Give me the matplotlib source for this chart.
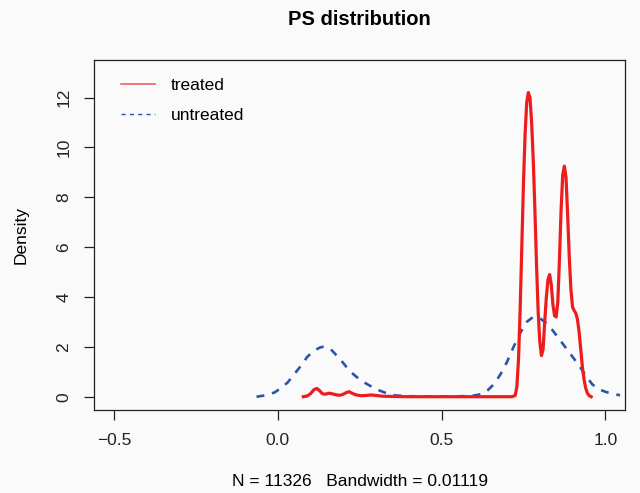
import numpy as np
import matplotlib
matplotlib.use("Agg")
import matplotlib.pyplot as plt
from matplotlib.lines import Line2D

# density estimates
untreated_x = [-0.065, -0.04, -0.01, 0.01, 0.03, 0.05, 0.07, 0.09, 0.11, 0.13,
               0.14, 0.16, 0.18, 0.20, 0.22, 0.24, 0.26, 0.28, 0.30, 0.32,
               0.34, 0.36, 0.40, 0.45, 0.50, 0.55, 0.60, 0.62, 0.64, 0.66,
               0.68, 0.70, 0.72, 0.74, 0.76, 0.78, 0.80, 0.82, 0.84, 0.86,
               0.88, 0.90, 0.92, 0.94, 0.96, 0.98, 1.00, 1.02, 1.045]
untreated_y = [0.0, 0.05, 0.17, 0.35, 0.57, 0.9, 1.23, 1.6, 1.85, 1.98,
               2.0, 1.93, 1.65, 1.35, 1.02, 0.8, 0.6, 0.45, 0.3, 0.2,
               0.1, 0.05, 0.02, 0.01, 0.01, 0.01, 0.05, 0.1, 0.25, 0.5,
               0.9, 1.4, 2.0, 2.55, 3.0, 3.2, 3.15, 2.95, 2.65, 2.3,
               1.95, 1.6, 1.25, 0.85, 0.5, 0.3, 0.2, 0.12, 0.06]

treated_x = [0.078, 0.09, 0.10, 0.11, 0.119, 0.127, 0.136, 0.145, 0.155, 0.165,
             0.18, 0.19, 0.20, 0.21, 0.218, 0.228, 0.24, 0.255, 0.27, 0.285,
             0.30, 0.32, 0.35, 0.40, 0.50, 0.60, 0.70, 0.715, 0.725, 0.730,
             0.735, 0.740, 0.745, 0.750, 0.755, 0.760, 0.765, 0.770, 0.775, 0.780,
             0.785, 0.790, 0.795, 0.800, 0.805, 0.810, 0.815, 0.820, 0.825, 0.830,
             0.835, 0.840, 0.845, 0.850, 0.855, 0.860, 0.865, 0.870, 0.875, 0.880,
             0.885, 0.890, 0.895, 0.900, 0.905, 0.910, 0.915, 0.920, 0.925, 0.930,
             0.935, 0.940, 0.945, 0.950, 0.957]
treated_y = [0.0, 0.03, 0.12, 0.28, 0.33, 0.25, 0.12, 0.1, 0.14, 0.12,
             0.07, 0.06, 0.1, 0.17, 0.2, 0.13, 0.07, 0.04, 0.05, 0.07,
             0.05, 0.02, 0.01, 0.0, 0.0, 0.0, 0.0, 0.0, 0.05, 0.4,
             1.5, 3.5, 6.0, 8.5, 10.5, 11.8, 12.2, 12.0, 11.0, 9.5,
             7.5, 5.3, 3.4, 2.2, 1.65, 1.9, 3.0, 4.0, 4.7, 4.9,
             4.5, 3.7, 3.25, 3.2, 3.8, 5.5, 7.5, 8.9, 9.25, 8.8,
             7.3, 5.6, 4.3, 3.6, 3.45, 3.35, 3.1, 2.6, 1.9, 1.2,
             0.7, 0.35, 0.15, 0.05, 0.0]

x_ticks = [-0.5, 0.0, 0.5, 1.0]
y_ticks = [0, 2, 4, 6, 8, 10, 12]

RED = "#ee1c1c"
BLUE = "#2b55ad"

plt.rcParams["font.family"] = ["Liberation Sans", "DejaVu Sans"]

fig = plt.figure(figsize=(6.4, 4.93), dpi=100, facecolor="#fafafa")
ax = fig.add_axes([0.147, 0.168, 0.83, 0.71])
ax.set_facecolor("#fafafa")

ax.plot(untreated_x, untreated_y, color=BLUE, lw=1.9, dashes=(3, 3))
ax.plot(treated_x, treated_y, color=RED, lw=2.3)

ax.set_xlim(-0.561, 1.061)
ax.set_ylim(-0.54, 13.5)
ax.set_xticks(x_ticks)
ax.set_xticklabels(["\u22120.5", "0.0", "0.5", "1.0"])
ax.set_yticks(y_ticks)
ax.tick_params(axis="both", direction="out", length=7.5, width=0.9,
               labelsize=12.5, pad=9, colors="#222222")
for lab in ax.get_yticklabels():
    lab.set_rotation(90)
    lab.set_va("center")
for s in ax.spines.values():
    s.set_linewidth(0.9)
    s.set_color("#222222")

ax.set_title("PS distribution", fontsize=14.5, fontweight="bold", pad=25)
ax.set_xlabel("N = 11326   Bandwidth = 0.01119", fontsize=12.5, labelpad=19)
ax.set_ylabel("Density", fontsize=12.5, labelpad=20)

handles = [Line2D([], [], color="#f06060", lw=1.2),
           Line2D([], [], color=BLUE, lw=1.0, dashes=(3, 3))]
ax.legend(handles, ["treated", "untreated"], loc="upper left",
          bbox_to_anchor=(0.05, 0.95), frameon=False, fontsize=12.5,
          handlelength=2.0, handletextpad=0.9, labelspacing=0.85,
          borderpad=0, borderaxespad=0)

fig.savefig("out.png", dpi=100, facecolor=fig.get_facecolor())
